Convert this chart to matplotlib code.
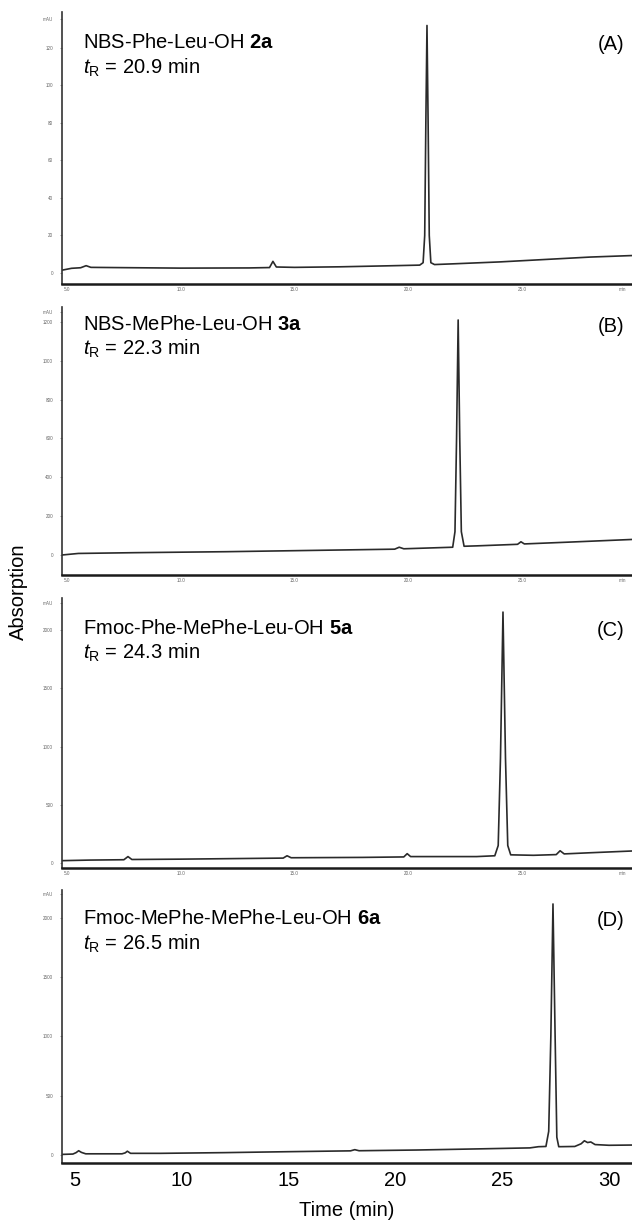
import matplotlib
matplotlib.use("Agg")
import matplotlib.pyplot as plt

plt.rcParams['font.family'] = ['Liberation Sans', 'DejaVu Sans']
plt.rcParams['mathtext.fontset'] = 'custom'
plt.rcParams['mathtext.rm'] = 'Liberation Sans'
plt.rcParams['mathtext.it'] = 'Liberation Sans:italic'
plt.rcParams['mathtext.bf'] = 'Liberation Sans:bold'

# ---------------- data ----------------
# Panel A: NBS-Phe-Leu-OH 2a
a_time = [4.78, 5.2, 5.6, 5.84, 6.05, 7.0, 10.0, 13.0, 13.9, 14.05, 14.2, 15.0, 17.0, 19.0,
          20.5, 20.65, 20.72, 20.77, 20.82, 20.87, 20.92, 20.99, 21.15, 22.0, 24.0, 26.0, 28.0, 29.83]
a_abs = [1.5, 2.5, 2.8, 3.9, 3.0, 2.9, 2.6, 2.7, 2.9, 6.2, 3.2, 3.0, 3.3, 3.8,
         4.2, 5.5, 20, 80, 132, 80, 20, 5.5, 4.5, 4.9, 5.9, 7.2, 8.5, 9.3]

# Panel B: NBS-MePhe-Leu-OH 3a
b_time = [4.78, 5.5, 8.0, 12.0, 16.0, 19.4, 19.6, 19.8, 21.95, 22.05, 22.12, 22.19, 22.26, 22.33,
          22.45, 23.0, 24.8, 24.95, 25.1, 27.0, 29.83]
b_abs = [0, 8, 12, 17, 24, 30, 40, 32, 40, 120, 600, 1210, 600, 120,
         45, 47, 55, 68, 57, 66, 80]

# Panel C: Fmoc-Phe-MePhe-Leu-OH 5a
c_time = [4.78, 6.0, 7.5, 7.68, 7.85, 10.0, 14.5, 14.67, 14.85, 18.0, 19.8, 19.95, 20.1, 23.0,
          23.8, 23.95, 24.05, 24.16, 24.27, 24.37, 24.5, 25.5, 26.5, 26.67, 26.85, 28.0, 29.83]
c_abs = [20, 25, 28, 55, 30, 33, 42, 62, 45, 48, 52, 80, 55, 55,
         62, 150, 900, 2154, 900, 150, 70, 66, 72, 105, 78, 88, 103]

# Panel D: Fmoc-MePhe-MePhe-Leu-OH 6a
d_time = [4.39, 4.9, 5.05, 5.17, 5.3, 5.5, 7.2, 7.35, 7.45, 7.6, 9.0, 12.0, 15.0, 17.9, 18.1, 18.3,
          21.0, 24.0, 26.3, 26.7, 27.05, 27.18, 27.28, 27.38, 27.48, 27.56, 27.65, 28.4, 28.7, 28.85,
          29.0, 29.15, 29.35, 30.0, 31.08]
d_abs = [5, 8, 20, 36, 22, 10, 10, 18, 32, 14, 14, 20, 28, 35, 45, 36,
         42, 52, 60, 70, 72, 200, 1000, 2118, 1000, 150, 70, 72, 95, 120,
         105, 110, 88, 82, 84]

titles = ["NBS-Phe-Leu-OH", "NBS-MePhe-Leu-OH", "Fmoc-Phe-MePhe-Leu-OH", "Fmoc-MePhe-MePhe-Leu-OH"]
compounds = ["2a", "3a", "5a", "6a"]
retention = ["20.9", "22.3", "24.3", "26.5"]
panel_tags = ["(A)", "(B)", "(C)", "(D)"]

# tiny instrument tick labels
a_yticks = [0, 20, 40, 60, 80, 100, 120, 135.5]
a_ylabels = ["0", "20", "40", "60", "80", "100", "120", "mAU"]
b_yticks = [0, 200, 400, 600, 800, 1000, 1200, 1252]
b_ylabels = ["0", "200", "400", "600", "800", "1000", "1200", "mAU"]
c_yticks = [0, 500, 1000, 1500, 2000, 2232]
c_ylabels = ["0", "500", "1000", "1500", "2000", "mAU"]
d_yticks = [0, 500, 1000, 1500, 2000, 2202]
d_ylabels = ["0", "500", "1000", "1500", "2000", "mAU"]

inst_xticks = [5, 10, 15, 20, 25, 29.4]
inst_xlabels = ["5.0", "10.0", "15.0", "20.0", "25.0", "min"]
time_ticks = [5, 10, 15, 20, 25, 30]
time_labels = ["5", "10", "15", "20", "25", "30"]

# ---------------- layout ----------------
W, H = 632, 1220
fig = plt.figure(figsize=(W / 100, H / 100), dpi=100)

# (top_px, bottom_px) of each panel
panels_px = [(12, 284), (307, 575), (598, 868), (890, 1163)]
text_px = [43, 324, 628, 919]
tag_px = [45, 326, 630, 920]
xlims = [(4.78, 29.83), (4.78, 29.83), (4.78, 29.83), (4.39, 31.08)]
ylims = [(-5.87, 139.2), (-103, 1277), (-43, 2275), (-67.5, 2236)]
series = [(a_time, a_abs), (b_time, b_abs), (c_time, c_abs), (d_time, d_abs)]
yt = [(a_yticks, a_ylabels), (b_yticks, b_ylabels), (c_yticks, c_ylabels), (d_yticks, d_ylabels)]

left_px = 62
for i, ((top, bot), (tx, ty)) in enumerate(zip(panels_px, series)):
    ax = fig.add_axes([left_px / W, 1 - bot / H, 1 - left_px / W, (bot - top) / H])
    ax.plot(tx, ty, color='#2a2a2a', lw=1.2, solid_joinstyle='round')
    ax.set_xlim(*xlims[i])
    ax.set_ylim(*ylims[i])
    for s in ['top', 'right']:
        ax.spines[s].set_visible(False)
    ax.spines['left'].set_color('#333333')
    ax.spines['left'].set_linewidth(1.2)
    ax.spines['bottom'].set_color('#1a1a1a')
    ax.spines['bottom'].set_linewidth(1.8)
    ax.set_yticks(yt[i][0])
    ax.set_yticklabels(yt[i][1], fontsize=3.3, color='#666666')
    ax.tick_params(axis='y', length=1.5, width=0.5, color='#777777', pad=5)
    if i < 3:
        ax.set_xticks(inst_xticks)
        ax.set_xticklabels(inst_xlabels, fontsize=3.3, color='#666666')
        ax.tick_params(axis='x', length=0, pad=2)
    else:
        ax.set_xticks(time_ticks)
        ax.set_xticklabels(time_labels, fontsize=14.5, color='black')
        ax.tick_params(axis='x', length=0, pad=6)

    # annotation text
    y1 = text_px[i]
    fig.text(83 / W, 1 - y1 / H, titles[i] + r" $\mathbf{" + compounds[i] + "}$",
             fontsize=14.5, ha='left', va='center')
    fig.text(83 / W, 1 - (y1 + 25) / H, r"$t_\mathrm{R}$ = " + retention[i] + " min",
             fontsize=14.5, ha='left', va='center')
    fig.text(624 / W, 1 - tag_px[i] / H, panel_tags[i], fontsize=14.5, ha='right', va='center')

fig.text(18 / W, 1 - 592 / H, "Absorption", rotation=90, fontsize=14.5, ha='center', va='center')
fig.text(347 / W, 1 - 1210 / H, "Time (min)", fontsize=14.5, ha='center', va='center')

fig.savefig("out.png", dpi=100)
